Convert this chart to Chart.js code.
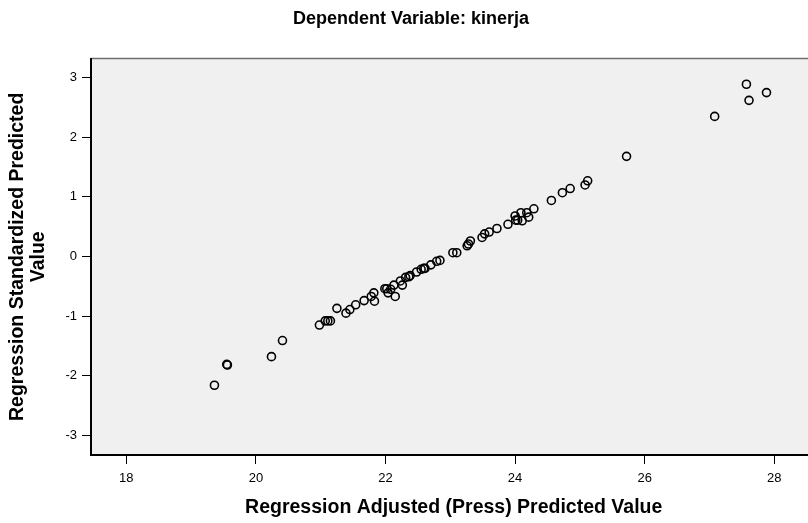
<!DOCTYPE html>
<html>
<head>
<meta charset="utf-8">
<script src="https://cdn.jsdelivr.net/npm/chart.js"></script>
<style>
  html, body { margin: 0; padding: 0; background: #fff; overflow: hidden; }
  canvas { display: block; }
</style>
</head>
<body>
<canvas id="grafico" width="822" height="523"></canvas>
<script>
// Regression Adjusted (Press) Predicted Value
const adjPredicted = [19.36, 19.55, 19.56, 20.24, 20.41, 20.98, 21.07, 21.11, 21.15, 21.25,
  21.39, 21.45, 21.54, 21.67, 21.78, 21.82, 21.83, 21.99, 22.02, 22.04,
  22.08, 22.13, 22.15, 22.23, 22.26, 22.31, 22.36, 22.38, 22.48, 22.55,
  22.59, 22.61, 22.70, 22.79, 22.84, 23.04, 23.10, 23.26, 23.28, 23.31,
  23.49, 23.53, 23.60, 23.72, 23.89, 24.00, 24.01, 24.04, 24.09, 24.11,
  24.18, 24.21, 24.29, 24.56, 24.73, 24.85, 25.08, 25.12, 25.72, 27.08,
  27.57, 27.61, 27.88];
// Regression Standardized Predicted Value
const stdPredicted = [-2.16, -1.81, -1.82, -1.68, -1.41, -1.15, -1.08, -1.08, -1.08, -0.87,
  -0.95, -0.89, -0.81, -0.74, -0.67, -0.61, -0.75, -0.54, -0.54, -0.61,
  -0.55, -0.48, -0.67, -0.41, -0.48, -0.35, -0.34, -0.32, -0.26, -0.215,
  -0.20, -0.20, -0.14, -0.08, -0.065, 0.064, 0.064, 0.18, 0.21, 0.26,
  0.32, 0.38, 0.41, 0.47, 0.54, 0.68, 0.61, 0.61, 0.735, 0.60,
  0.735, 0.66, 0.80, 0.94, 1.07, 1.14, 1.20, 1.27, 1.68, 2.35,
  2.89, 2.62, 2.75];

const xTicks = [18, 20, 22, 24, 26, 28];
const yTicks = [-3, -2, -1, 0, 1, 2, 3];

const fonte = 'Liberation Sans, Arial, sans-serif';

// fundo cinza da area do grafico + linha superior
const moldura = {
  id: 'moldura',
  beforeDraw(chart) {
    const { ctx, chartArea: a } = chart;
    ctx.save();
    ctx.fillStyle = '#f0f0f0';
    ctx.fillRect(a.left, a.top, a.right - a.left, a.bottom - a.top);
    ctx.strokeStyle = '#707070';
    ctx.lineWidth = 1.5;
    ctx.beginPath();
    ctx.moveTo(a.left, a.top);
    ctx.lineTo(a.right, a.top);
    ctx.stroke();
    ctx.restore();
  }
};

new Chart(document.getElementById('grafico'), {
  type: 'scatter',
  data: {
    datasets: [{
      label: 'kinerja',
      data: adjPredicted.map((x, i) => ({ x: x, y: stdPredicted[i] })),
      pointStyle: 'circle',
      pointRadius: 4,
      borderWidth: 1.6,
      borderColor: '#000',
      backgroundColor: 'rgba(0,0,0,0)'
    }]
  },
  options: {
    responsive: false,
    animation: false,
    layout: { padding: 0 },
    plugins: {
      legend: { display: false },
      tooltip: { enabled: false },
      title: {
        display: true,
        text: 'Dependent Variable: kinerja',
        color: '#000',
        font: { family: fonte, size: 18, weight: 'bold' },
        padding: { top: 8, bottom: 29 }
      }
    },
    scales: {
      x: {
        type: 'linear',
        min: 17.455,
        max: 28.65,
        afterFit: s => { s.height = 68; },
        afterBuildTicks: s => { s.ticks = xTicks.map(v => ({ value: v })); },
        ticks: { color: '#000', font: { family: fonte, size: 13 }, padding: 7 },
        grid: { drawOnChartArea: false, drawTicks: true, tickLength: 9, color: '#000', lineWidth: 1 },
        border: { display: true, color: '#000', width: 2 },
        title: {
          display: true,
          text: 'Regression Adjusted (Press) Predicted Value',
          color: '#000',
          font: { family: fonte, size: 19.5, weight: 'bold' },
          padding: { top: 0, bottom: 4 }
        }
      },
      y: {
        type: 'linear',
        min: -3.33,
        max: 3.32,
        afterFit: s => { s.width = 91; },
        afterBuildTicks: s => { s.ticks = yTicks.map(v => ({ value: v })); },
        ticks: { color: '#000', font: { family: fonte, size: 13 }, padding: 5 },
        grid: { drawOnChartArea: false, drawTicks: true, tickLength: 9, color: '#000', lineWidth: 1 },
        border: { display: true, color: '#000', width: 2 },
        title: {
          display: true,
          text: ['Regression Standardized Predicted', 'Value'],
          color: '#000',
          font: { family: fonte, size: 19.5, weight: 'bold', lineHeight: 1.08 },
          padding: { top: 7, bottom: 0 }
        }
      }
    }
  },
  plugins: [moldura]
});
</script>
</body>
</html>
